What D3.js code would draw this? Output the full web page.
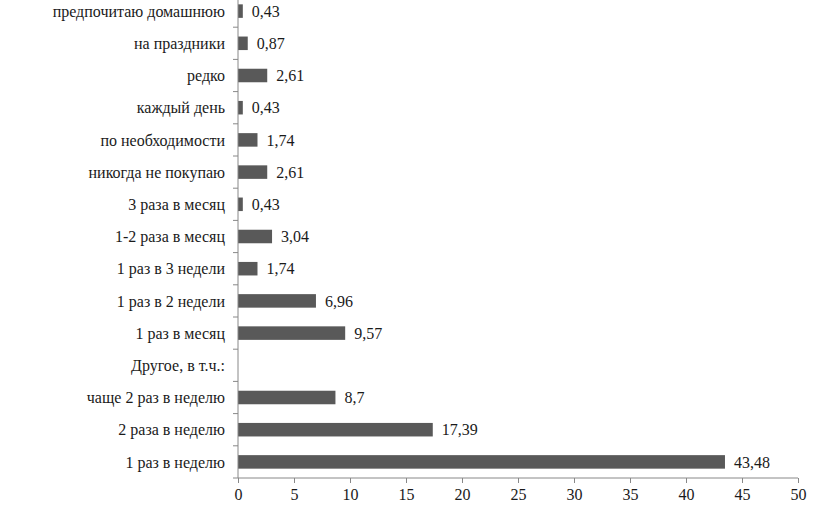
<!DOCTYPE html>
<html><head><meta charset="utf-8">
<script src="https://cdn.jsdelivr.net/npm/d3@7"></script>
<style>body{margin:0;background:#fff;font-family:'Liberation Serif',serif}svg{display:block}svg text{font-family:'Liberation Serif',serif;font-size:16px}</style>
</head><body>
<svg id="chart" width="827" height="519"></svg>
<script>
const categories = ["1 раз в неделю","2 раза в неделю","чаще 2 раз в неделю","Другое, в т.ч.:","1 раз в месяц","1 раз в 2 недели","1 раз в 3 недели","1-2 раза в месяц","3 раза в месяц","никогда не покупаю","по необходимости","каждый день","редко","на праздники","предпочитаю домашнюю"];
const values = [43.48,17.39,8.7,null,9.57,6.96,1.74,3.04,0.43,2.61,1.74,0.43,2.61,0.87,0.43];
const valueLabels = ["43,48","17,39","8,7","","9,57","6,96","1,74","3,04","0,43","2,61","1,74","0,43","2,61","0,87","0,43"];
const xTicks = [0,5,10,15,20,25,30,35,40,45,50];

const svg=d3.select("#chart");
const x=d3.scaleLinear().domain([0,50]).range([238,798]);
const y=d3.scaleBand().domain(categories).range([478,-5]).paddingInner(0.58).paddingOuter(0.29);
const step=y.step();
const rows=categories.map((c,i)=>({c,v:values[i],l:valueLabels[i]})).filter(d=>d.v!=null);

svg.selectAll("rect.bar").data(rows).join("rect").attr("class","bar")
 .attr("x",x(0)).attr("y",d=>y(d.c)).attr("width",d=>x(d.v)-x(0)).attr("height",y.bandwidth())
 .attr("fill","#595959");

svg.selectAll("text.val").data(rows).join("text").attr("class","val")
 .attr("x",d=>x(d.v)+9).attr("y",d=>y(d.c)+y.bandwidth()/2).attr("dy","0.35em")
 .attr("fill","#1a1a1a").text(d=>d.l);

const xa=svg.append("g").attr("transform","translate(0,478)")
 .call(d3.axisBottom(x).tickValues(xTicks).tickSize(5).tickPadding(6).tickFormat(d3.format("d")));
xa.attr("font-family",null).attr("font-size",null);
xa.select(".domain").attr("stroke","#888").attr("d","M238,0H798");
xa.selectAll(".tick line").attr("stroke","#888");
xa.selectAll("text").attr("fill","#1a1a1a");

const ya=svg.append("g").attr("transform","translate(238,0)");
ya.append("line").attr("x1",0).attr("x2",0).attr("y1",-5).attr("y2",478).attr("stroke","#888");
const bounds=categories.map(c=>y(c)-(step-y.bandwidth())/2).concat([478]);
ya.selectAll("line.tk").data(bounds).join("line").attr("class","tk")
 .attr("x1",-5).attr("x2",0).attr("y1",d=>d).attr("y2",d=>d).attr("stroke","#888");
ya.selectAll("text").data(categories).join("text")
 .attr("x",-13).attr("y",d=>y(d)+y.bandwidth()/2).attr("dy","0.35em").attr("text-anchor","end")
 .attr("fill","#1a1a1a").text(d=>d);
</script>
</body></html>
